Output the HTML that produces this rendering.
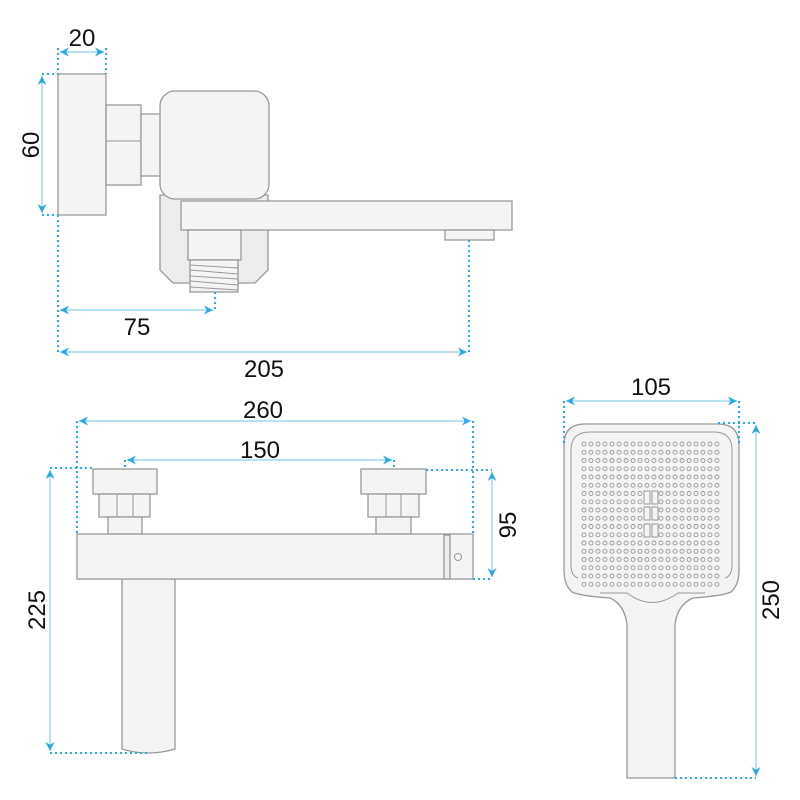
<!DOCTYPE html>
<html><head><meta charset="utf-8"><style>
html,body{margin:0;padding:0;background:#fff;width:800px;height:800px;overflow:hidden}
svg{display:block}
text{font-family:"Liberation Sans",sans-serif;font-size:24px;fill:#111}
.p{fill:#f4f4f4;stroke:#999;stroke-width:1.3}
.d{fill:#ececec;stroke:#999;stroke-width:1.3}
.l{stroke:#8ad0ee;stroke-width:1.2;fill:none}
.o{stroke:#29abe2;stroke-width:2;stroke-dasharray:2 3;fill:none}
.t{stroke:#999;stroke-width:1;fill:none}
</style></head><body>
<svg id="s" width="800" height="800" viewBox="0 0 800 800" xmlns="http://www.w3.org/2000/svg">
<defs>
<marker id="a" viewBox="0 0 10 10" refX="10" refY="5" markerWidth="9" markerHeight="9" orient="auto-start-reverse" markerUnits="userSpaceOnUse">
<path d="M0,0 L10,5 L0,10 L3,5 Z" fill="#29abe2"/></marker>
</defs>

<!-- TOP VIEW -->
<path class="d" d="M160,195 L268,195 L268,270 L255,283 L173,283 L160,270 Z"/>
<rect class="p" x="58" y="74" width="48" height="141"/>
<rect class="p" x="106" y="105" width="35" height="80"/>
<line class="t" x1="106" y1="141" x2="141" y2="141"/>
<rect class="p" x="141" y="114" width="20" height="62"/>
<rect class="p" x="160" y="91" width="109" height="108" rx="15"/>
<rect class="p" x="181" y="201" width="331" height="29"/>
<rect class="p" x="188" y="230" width="53" height="30"/>
<rect class="p" x="190" y="260" width="48" height="32"/>
<g class="t">
<line x1="190" y1="265" x2="238" y2="268"/><line x1="190" y1="270" x2="238" y2="274"/>
<line x1="190" y1="276" x2="238" y2="279"/><line x1="190" y1="281" x2="238" y2="285"/>
<line x1="190" y1="287" x2="238" y2="290"/>
</g>
<rect class="p" x="445" y="230" width="49" height="10"/>

<path class="o" d="M58,48 V74 M106,48 V74"/>
<line class="l" x1="60" y1="52" x2="104" y2="52" marker-start="url(#a)" marker-end="url(#a)"/>
<text x="82" y="46" text-anchor="middle">20</text>
<path class="o" d="M42,74 H58 M42,215 H58"/>
<line class="l" x1="42" y1="76" x2="42" y2="213" marker-start="url(#a)" marker-end="url(#a)"/>
<text transform="translate(39,145) rotate(-90)" text-anchor="middle">60</text>
<path class="o" d="M58,215 V352 M215,292 V310 M469,240 V352"/>
<line class="l" x1="60" y1="310" x2="213" y2="310" marker-start="url(#a)" marker-end="url(#a)"/>
<text x="137" y="335" text-anchor="middle">75</text>
<line class="l" x1="60" y1="352" x2="467" y2="352" marker-start="url(#a)" marker-end="url(#a)"/>
<text x="264" y="377" text-anchor="middle">205</text>

<!-- FRONT VIEW -->
<path class="p" d="M122,579 H175 V749 Q148,757 122,749 Z"/>
<rect class="p" x="93" y="469" width="64" height="25"/>
<rect class="p" x="99" y="494" width="51" height="23"/>
<path class="t" d="M117,494 V517 M133,494 V517"/>
<rect class="p" x="108" y="517" width="34" height="17"/>
<rect class="p" x="361" y="469" width="65" height="25"/>
<rect class="p" x="368" y="494" width="51" height="23"/>
<path class="t" d="M386,494 V517 M401,494 V517"/>
<rect class="p" x="376" y="517" width="35" height="17"/>
<rect class="p" x="77" y="534" width="396" height="45"/>
<rect class="d" x="444" y="535" width="6" height="44"/>
<circle class="t" cx="458" cy="557" r="3.5"/>

<path class="o" d="M77,421 V534 M473,421 V534 M125,460 V469 M394,460 V469"/>
<line class="l" x1="79" y1="421" x2="471" y2="421" marker-start="url(#a)" marker-end="url(#a)"/>
<text x="263" y="418" text-anchor="middle">260</text>
<line class="l" x1="127" y1="460" x2="392" y2="460" marker-start="url(#a)" marker-end="url(#a)"/>
<text x="260" y="458" text-anchor="middle">150</text>
<path class="o" d="M50,468 H93 M50,753 H150"/>
<line class="l" x1="50" y1="470" x2="50" y2="751" marker-start="url(#a)" marker-end="url(#a)"/>
<text transform="translate(45,610) rotate(-90)" text-anchor="middle">225</text>
<path class="o" d="M426,470 H492 M473,579 H492"/>
<line class="l" x1="492" y1="472" x2="492" y2="577" marker-start="url(#a)" marker-end="url(#a)"/>
<text transform="translate(516,525) rotate(-90)" text-anchor="middle">95</text>

<!-- SHOWER HEAD -->
<path class="p" d="M627,778 V625 Q625,605 610,598 Q580,596 572,592 Q564,585 564,570 V445 Q564,424 585,424 H718 Q739,424 739,445 V570 Q739,585 731,592 Q722,596 693,598 Q677,605 675,625 V778 Z"/>
<path class="t" d="M600,593 H627 Q652,612 678,593 H705 M578,578 Q571,576 571,565 V450 Q571,432 590,432 H714 Q732,432 732,450 V565 Q732,576 725,578"/>
<g id="dots" fill="none" stroke="#999" stroke-width="0.9"></g>
<g class="t">
<rect x="644" y="491" width="6" height="13"/><rect x="652" y="491" width="6" height="13"/>
<rect x="644" y="507" width="6" height="13"/><rect x="652" y="507" width="6" height="13"/>
<rect x="644" y="524" width="6" height="13"/><rect x="652" y="524" width="6" height="13"/>
</g>

<path class="o" d="M564,401 V443 M739,401 V443 M718,423 H756 M675,778 H756"/>
<line class="l" x1="566" y1="401" x2="737" y2="401" marker-start="url(#a)" marker-end="url(#a)"/>
<text x="651" y="395" text-anchor="middle">105</text>
<line class="l" x1="756" y1="425" x2="756" y2="776" marker-start="url(#a)" marker-end="url(#a)"/>
<text transform="translate(779,600) rotate(-90)" text-anchor="middle">250</text>
</svg>
<script>
var g=document.getElementById('dots'),h='';
for(var r=0;r<18;r++){var y=444+r*8.25;for(var c=0;c<20;c++){var x=584+c*7;
if(r>=6&&r<=11&&(c==9||c==10))continue;h+='<circle cx="'+x+'" cy="'+y.toFixed(1)+'" r="2"/>';}}
g.innerHTML=h;
</script>
</body></html>
